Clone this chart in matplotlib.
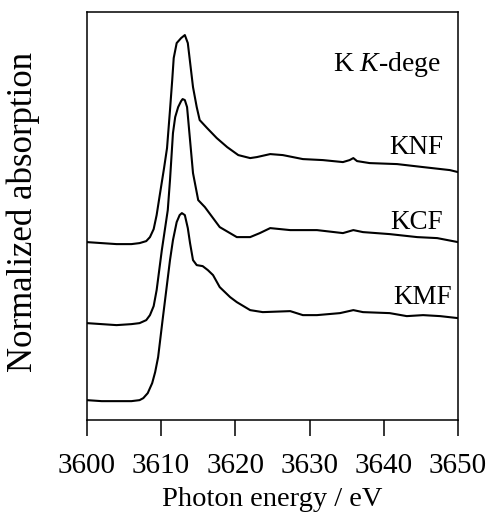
import matplotlib
matplotlib.use("Agg")
import matplotlib.pyplot as plt

plt.rcParams["font.family"] = ["Liberation Serif", "DejaVu Serif"]
plt.rcParams["mathtext.fontset"] = "custom"
plt.rcParams["mathtext.rm"] = "Liberation Serif"
plt.rcParams["mathtext.it"] = "Liberation Serif:italic"

# photon energy (eV) and stacked normalized absorption
knf_e = [3600.0, 3602.0, 3604.0, 3606.0, 3607.1, 3608.0, 3608.5, 3609.0, 3609.4, 3609.8,
         3610.4, 3610.8, 3611.2, 3611.5, 3611.7, 3612.1, 3612.7, 3613.2, 3613.6, 3614.3,
         3614.8, 3615.2, 3616.2, 3617.5, 3618.9, 3620.4, 3622.0, 3622.9, 3624.7, 3626.4,
         3629.1, 3631.8, 3634.5, 3635.4, 3635.9, 3636.4, 3638.1, 3641.8, 3645.3, 3648.9,
         3650.0]
knf_y = [1.78, 1.77, 1.76, 1.76, 1.77, 1.79, 1.83, 1.91, 2.05, 2.24,
         2.52, 2.72, 3.10, 3.40, 3.62, 3.77, 3.82, 3.85, 3.77, 3.33,
         3.13, 3.00, 2.92, 2.82, 2.73, 2.65, 2.62, 2.63, 2.66, 2.65,
         2.61, 2.60, 2.58, 2.60, 2.62, 2.59, 2.57, 2.56, 2.53, 2.50,
         2.48]

kcf_e = [3600.0, 3602.0, 3604.0, 3606.0, 3607.1, 3608.0, 3608.5, 3609.0, 3609.4, 3610.1,
         3610.9, 3611.2, 3611.6, 3611.9, 3612.3, 3612.7, 3612.9, 3613.2, 3613.5, 3613.9,
         3614.3, 3615.0, 3615.9, 3617.9, 3620.2, 3622.0, 3623.3, 3624.7, 3627.4, 3631.0,
         3634.5, 3635.9, 3637.2, 3640.8, 3644.5, 3647.2, 3650.0]
kcf_y = [0.97, 0.96, 0.95, 0.96, 0.97, 1.00, 1.05, 1.14, 1.30, 1.70,
         2.10, 2.40, 2.87, 3.03, 3.13, 3.19, 3.21, 3.20, 3.13, 2.80,
         2.47, 2.20, 2.13, 1.93, 1.83, 1.83, 1.87, 1.92, 1.90, 1.90,
         1.87, 1.90, 1.88, 1.86, 1.83, 1.82, 1.78]

kmf_e = [3600.0, 3602.0, 3604.0, 3606.0, 3607.1, 3607.6, 3608.2, 3608.8, 3609.2, 3609.6,
         3610.2, 3610.7, 3611.2, 3611.6, 3612.1, 3612.5, 3612.8, 3613.2, 3613.6, 3613.9,
         3614.3, 3614.8, 3615.6, 3616.3, 3617.0, 3617.9, 3619.3, 3620.2, 3622.0, 3623.7,
         3627.4, 3629.1, 3631.0, 3634.1, 3635.9, 3637.2, 3640.8, 3643.1, 3645.3, 3647.6,
         3650.0]
kmf_y = [0.20, 0.19, 0.19, 0.19, 0.20, 0.22, 0.27, 0.37, 0.48, 0.63,
         1.00, 1.30, 1.60, 1.80, 1.98, 2.05, 2.07, 2.05, 1.92, 1.77,
         1.60, 1.55, 1.54, 1.50, 1.45, 1.33, 1.23, 1.18, 1.10, 1.08,
         1.09, 1.05, 1.05, 1.07, 1.10, 1.08, 1.07, 1.04, 1.05, 1.04,
         1.02]

labels = ["KNF", "KCF", "KMF"]
label_x = [3648.0, 3648.0, 3649.2]
label_y = [2.66, 1.91, 1.16]

fig = plt.figure(figsize=(4.88, 5.13), dpi=100)
ax = fig.add_axes([0.178, 0.181, 0.7605, 0.7955])

for e, y in [(knf_e, knf_y), (kcf_e, kcf_y), (kmf_e, kmf_y)]:
    ax.plot(e, y, color="black", linewidth=1.5, solid_joinstyle="round")

for name, x, y in zip(labels, label_x, label_y):
    ax.text(x, y, name, ha="right", va="baseline", fontsize=19.5)
ax.text(3647.8, 3.49, r"K $\mathit{K}$-dege", ha="right", va="baseline", fontsize=20)

ax.set_xlim(3600, 3650)
ax.set_ylim(0, 4.08)
ax.set_xticks([3600, 3610, 3620, 3630, 3640, 3650])
ax.set_yticks([])
ax.tick_params(axis="x", direction="out", length=11.5, width=1.1, labelsize=21, pad=12)
for s in ax.spines.values():
    s.set_linewidth(1.1)

ax.set_xlabel("Photon energy / eV", fontsize=20.5, labelpad=6)
ax.set_ylabel("Normalized absorption", fontsize=25, va="center")
ax.yaxis.set_label_coords(-0.172, 0.51)

fig.savefig("out.png", dpi=100)
